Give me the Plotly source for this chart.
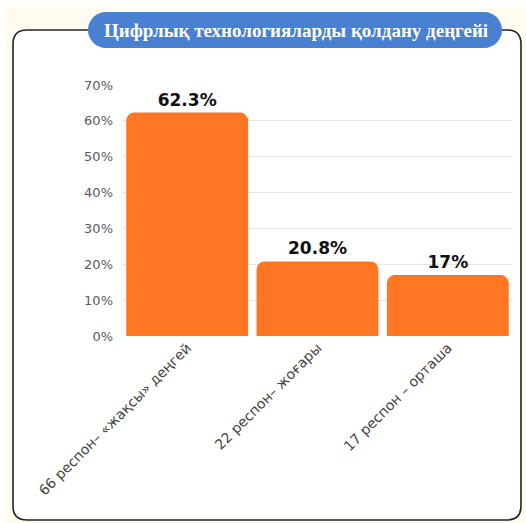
import plotly.graph_objects as go

categories = ["66 респон– «жақсы» деңгей", "22 респон– жоғары", "17 респон – орташа"]
values = [62.3, 20.8, 17]
value_labels = ["62.3%", "20.8%", "17%"]
tick_vals = [0, 10, 20, 30, 40, 50, 60, 70]
tick_text = ["0%", "10%", "20%", "30%", "40%", "50%", "60%", "70%"]
title_text = "Цифрлық технологияларды қолдану деңгейі"

W, H = 526, 523

def px(x):
    return x / W

def py(y):
    return 1 - y / H

def rounded_path(x0, y0, x1, y1, r):
    rx, ry = r / W, r / H
    X0, X1 = px(x0), px(x1)
    Y0, Y1 = py(y0), py(y1)
    return (f"M{X0+rx},{Y0} L{X1-rx},{Y0} Q{X1},{Y0} {X1},{Y0-ry} "
            f"L{X1},{Y1+ry} Q{X1},{Y1} {X1-rx},{Y1} "
            f"L{X0+rx},{Y1} Q{X0},{Y1} {X0},{Y1+ry} "
            f"L{X0},{Y0-ry} Q{X0},{Y0} {X0+rx},{Y0} Z")

def pill_path(x0, y0, x1, y1):
    r = (y1 - y0) / 2
    rx, ry = r / W, r / H
    X0, X1 = px(x0), px(x1)
    Y0, Y1 = py(y0), py(y1)
    k = 0.5523
    return (f"M{X0+rx},{Y0} L{X1-rx},{Y0} "
            f"C{X1-rx+rx*k},{Y0} {X1},{Y0-ry+ry*k} {X1},{Y0-ry} "
            f"C{X1},{Y0-ry-ry*k} {X1-rx+rx*k},{Y1} {X1-rx},{Y1} "
            f"L{X0+rx},{Y1} "
            f"C{X0+rx-rx*k},{Y1} {X0},{Y1+ry-ry*k} {X0},{Y1+ry} "
            f"C{X0},{Y1+ry+ry*k} {X0+rx-rx*k},{Y0} {X0+rx},{Y0} Z")

fig = go.Figure()
fig.add_trace(go.Bar(
    x=categories, y=values,
    text=value_labels, texttemplate="%{text}",
    textposition="outside", cliponaxis=False,
    textfont=dict(family="DejaVu Sans", size=17, color="#111111", weight="bold"),
    marker=dict(color="#FF7722", cornerradius=8, line=dict(width=0)),
    hoverinfo="skip",
))

shapes = [
    dict(type="rect", xref="paper", yref="paper", x0=px(5), x1=1, y0=0, y1=py(7),
         fillcolor="#FFFCEF", line=dict(width=0), layer="below"),
    dict(type="path", xref="paper", yref="paper", path=rounded_path(13, 30, 521, 520, 14),
         fillcolor="#FFFFFF", line=dict(color="#222222", width=1.6), layer="below"),
    dict(type="path", xref="paper", yref="paper", path=pill_path(88, 12, 502, 48),
         fillcolor="#4A80D2", line=dict(width=0), layer="above"),
]

fig.update_layout(
    width=W, height=H,
    autosize=False,
    margin=dict(l=0, r=0, t=0, b=0, pad=0, autoexpand=False),
    paper_bgcolor="#FFFFFF",
    plot_bgcolor="rgba(0,0,0,0)",
    bargap=0.065,
    showlegend=False,
    shapes=shapes,
    annotations=[dict(
        text=f"<b>{title_text}</b>", xref="paper", yref="paper",
        x=px(296), y=py(30), xanchor="center", yanchor="middle", showarrow=False,
        font=dict(family="Liberation Serif", size=19, color="#FFFFFF"),
    )],
    xaxis=dict(
        domain=[px(122), px(513)],
        automargin=False,
        tickangle=-45,
        tickfont=dict(family="DejaVu Sans", size=14, color="#444444"),
        showgrid=False, showline=False, zeroline=False, ticks="",
    ),
    yaxis=dict(
        domain=[py(336), py(85)],
        automargin=False,
        range=[0, 70],
        tickvals=tick_vals, ticktext=tick_text,
        tickfont=dict(family="DejaVu Sans", size=13, color="#5A5A5A"),
        showgrid=True, gridcolor="#E6E6E6", gridwidth=1,
        zeroline=False, showline=False, ticks="", ticklabelstandoff=8,
    ),
)

fig.write_html("out.html")
